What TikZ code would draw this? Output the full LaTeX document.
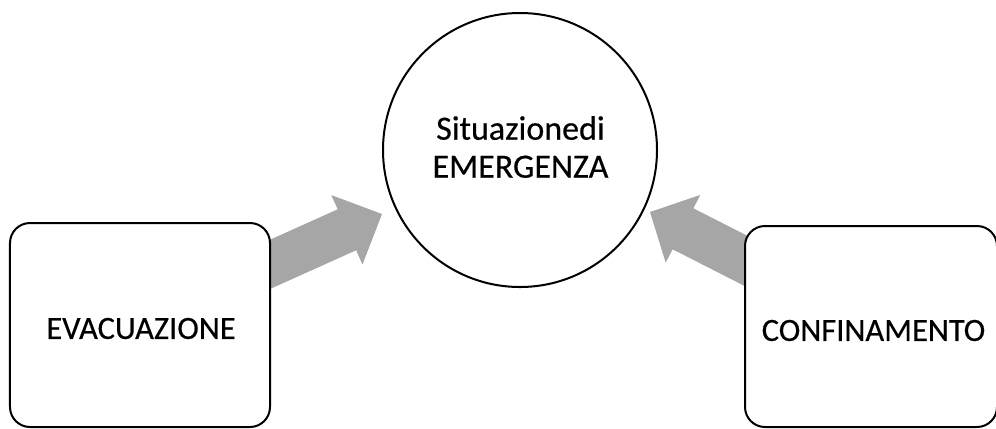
\documentclass[tikz,border=0pt]{standalone}
\usepackage{fontspec}
\setmainfont{Carlito}[FakeBold=0.4]
\usetikzlibrary{calc}
\definecolor{arrowgray}{RGB}{166,166,166}
\begin{document}
\begin{tikzpicture}[x=1bp,y=-1bp,
  outline/.style={draw=black, line width=2bp},
  boxnode/.style={outline, rectangle, rounded corners=20bp, fill=white, inner sep=0pt, outer sep=0pt},
  circnode/.style={outline, circle, fill=white, minimum size=274bp, inner sep=0pt, outer sep=0pt},
  box text/.style={font=\fontsize{32.5bp}{39bp}\selectfont, inner sep=0pt, align=center},
  circ text/.style={font=\fontsize{34bp}{38bp}\selectfont, inner sep=0pt, align=center},
  blockarrow/.style={fill=arrowgray, draw=none}]
\useasboundingbox (0,0) rectangle (996,428);
\fill[white] (0,0) rectangle (996,428);
% block arrows (tails hidden under the boxes)
\coordinate (ltip) at (382,214);
\coordinate (rtip) at (650,212);
\fill[blockarrow] (ltip) -- ($(ltip)+(-50.7,-18.9)$) -- ($(ltip)+(-44.3,-4.7)$) -- ($(ltip)+(-146,41)$)
  -- ($(ltip)+(-127.6,82)$) -- ($(ltip)+(-25.9,36.3)$) -- ($(ltip)+(-19.5,50.5)$) -- cycle;
\fill[blockarrow] (rtip) -- (700.3,194.9) -- (693.4,208.3) -- (794.1,259.6)
  -- (773.3,300.6) -- (672.6,249.3) -- (665.7,262.7) -- cycle;
% boxes and circle
\node[boxnode, minimum width=260bp, minimum height=204bp] (evac) at (140,325) {};
\node[boxnode, minimum width=252bp, minimum height=201bp] (conf) at (871,326.5) {};
\node[circnode] (emerg) at (520,150) {};
% texts
\node[box text] (evact) at (141,328.5) {EVACUAZIONE};
\node[box text] (conft) at (873.5,330.5) {CONFINAMENTO};
\node[circ text] (emergt) at (520.5,147) {Situazionedi\\EMERGENZA};
\end{tikzpicture}
\end{document}
